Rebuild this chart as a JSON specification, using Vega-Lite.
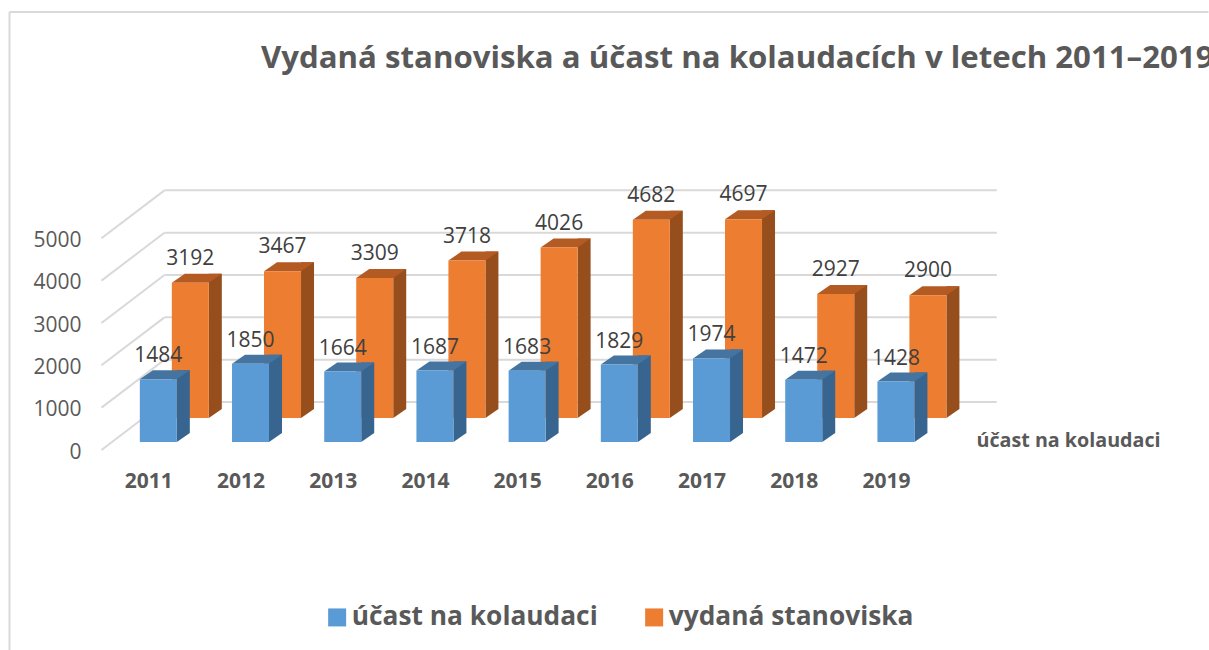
{
"$schema":"https://vega.github.io/schema/vega-lite/v6.json",
"width":922,"height":254,"autosize":"none",
"padding":{"left":103,"top":188,"right":184,"bottom":208},
"background":"white",
"config":{"view":{"stroke":null},"font":"Open Sans",
"axisX":{"grid":false,"ticks":false,"domain":false,"labelOffset":-10,"labelPadding":28,"labelFontSize":21,"labelFontWeight":"bold","labelColor":"#595959","labelFont":"Open Sans"},
"axisY":{"grid":false,"ticks":false,"domain":false,"labelOffset":10,"labelPadding":22,"labelFontSize":21,"labelColor":"#595959","labelFont":"Open Sans"}},
"title":{"text":"Vydaná stanoviska a účast na kolaudacích v letech 2011–2019","anchor":"start","frame":"group","dx":158,"offset":-88,"baseline":"alphabetic","font":"Open Sans","fontSize":31.2,"fontWeight":"bold","color":"#595959","limit":2000},
"data":{"values":[
{"year":2011,"series":"účast na kolaudaci","value":1484},{"year":2012,"series":"účast na kolaudaci","value":1850},{"year":2013,"series":"účast na kolaudaci","value":1664},{"year":2014,"series":"účast na kolaudaci","value":1687},{"year":2015,"series":"účast na kolaudaci","value":1683},{"year":2016,"series":"účast na kolaudaci","value":1829},{"year":2017,"series":"účast na kolaudaci","value":1974},{"year":2018,"series":"účast na kolaudaci","value":1472},{"year":2019,"series":"účast na kolaudaci","value":1428},
{"year":2011,"series":"vydaná stanoviska","value":3192},{"year":2012,"series":"vydaná stanoviska","value":3467},{"year":2013,"series":"vydaná stanoviska","value":3309},{"year":2014,"series":"vydaná stanoviska","value":3718},{"year":2015,"series":"vydaná stanoviska","value":4026},{"year":2016,"series":"vydaná stanoviska","value":4682},{"year":2017,"series":"vydaná stanoviska","value":4697},{"year":2018,"series":"vydaná stanoviska","value":2927},{"year":2019,"series":"vydaná stanoviska","value":2900}]},
"layer":[
{"data":{"values":[{"id":"frame"}]},"mark":{"type":"rule","color":"#d9d9d9","strokeWidth":2},"encoding":{
"x":{"datum":2009.386,"type":"quantitative","scale":{"domain":[2010.4,2020.4],"nice":false,"zero":false,"padding":0},"axis":{"title":null,"values":[2011,2012,2013,2014,2015,2016,2017,2018,2019],"format":"d"}},
"y":{"datum":10158,"type":"quantitative","scale":{"domain":[0,6000],"nice":false},"axis":{"title":null,"values":[0,1000,2000,3000,4000,5000],"format":"d"}},"y2":{"datum":-4913}}},
{"data":{"values":[{"id":"frame"}]},"mark":{"type":"rule","color":"#d9d9d9","strokeWidth":2},"encoding":{"x":{"datum":2009.386,"type":"quantitative","axis":{"title":null}},"x2":{"datum":2022.39},"y":{"datum":10158,"type":"quantitative","axis":{"title":null}}}},
{"data":{"values":[{"tick":0},{"tick":1000},{"tick":2000},{"tick":3000},{"tick":4000},{"tick":5000}]},"mark":{"type":"rule","color":"#d9d9d9","strokeWidth":2,"yOffset":-40},"encoding":{"x":{"datum":2011.067,"type":"quantitative","axis":{"title":null}},"x2":{"datum":2020.094},"y":{"field":"tick","type":"quantitative","axis":{"title":null}}}},
{"data":{"values":[{"tick":0},{"tick":1000},{"tick":2000},{"tick":3000},{"tick":4000},{"tick":5000}]},"mark":{"type":"point","shape":"M-1,0.76L1,-0.76","size":3969,"filled":false,"color":"#d9d9d9","strokeWidth":2,"opacity":1,"yOffset":-16},"encoding":{"x":{"datum":2010.725,"type":"quantitative","axis":{"title":null}},"y":{"field":"tick","type":"quantitative","axis":{"title":null}}}},

{"transform":[{"filter":"datum.series==='vydaná stanoviska'"}],"mark":{"type":"bar","orient":"vertical","size":13,"color":"#964f1c","xOffset":57,"yOffset":-33,"y2Offset":-33},"encoding":{"x":{"field":"year","type":"quantitative","axis":{"title":null}},"y":{"field":"value","type":"quantitative","stack":null,"axis":{"title":null}},"y2":{"datum":0}}},
{"transform":[{"filter":"datum.series==='vydaná stanoviska'"}],"mark":{"type":"point","shape":"M-1,0.69L-1,-0.69L1,-0.69Z","size":169,"filled":true,"color":"#964f1c","opacity":1,"xOffset":57,"yOffset":-28.5},"encoding":{"x":{"field":"year","type":"quantitative","axis":{"title":null}},"y":{"datum":0,"type":"quantitative","axis":{"title":null}}}},
{"transform":[{"filter":"datum.series==='vydaná stanoviska'"}],"mark":{"type":"point","shape":"M-1,0.18L0.48,0.18L1,-0.18L-0.48,-0.18Z","size":2500,"filled":true,"color":"#b45a23","opacity":1,"xOffset":38.5,"yOffset":-28.5},"encoding":{"x":{"field":"year","type":"quantitative","axis":{"title":null}},"y":{"field":"value","type":"quantitative","axis":{"title":null}}}},
{"transform":[{"filter":"datum.series==='vydaná stanoviska'"}],"mark":{"type":"bar","orient":"vertical","size":37,"xOffset":32,"yOffset":-24,"y2Offset":-24},"encoding":{"x":{"field":"year","type":"quantitative","axis":{"title":null}},"y":{"field":"value","type":"quantitative","stack":null,"axis":{"title":null}},"y2":{"datum":0},"color":{"field":"series","type":"nominal","scale":{"domain":["účast na kolaudaci","vydaná stanoviska"],"range":["#5b9bd5","#ed7d31"]},"legend":{"title":null,"orient":"none","legendX":221,"legendY":416,"direction":"horizontal","columns":2,"symbolType":"square","symbolSize":324,"symbolStrokeWidth":0,"labelFontSize":26.3,"labelFontWeight":"bold","labelColor":"#595959","labelFont":"Open Sans","labelOffset":1.5,"columnPadding":43,"labelLimit":400,"symbolOpacity":1}}}},

{"transform":[{"filter":"datum.series==='účast na kolaudaci'"}],"mark":{"type":"bar","orient":"vertical","size":13,"color":"#386590","xOffset":25,"yOffset":-9,"y2Offset":-9},"encoding":{"x":{"field":"year","type":"quantitative","axis":{"title":null}},"y":{"field":"value","type":"quantitative","stack":null,"axis":{"title":null}},"y2":{"datum":0}}},
{"transform":[{"filter":"datum.series==='účast na kolaudaci'"}],"mark":{"type":"point","shape":"M-1,0.69L-1,-0.69L1,-0.69Z","size":169,"filled":true,"color":"#386590","opacity":1,"xOffset":25,"yOffset":-4.5},"encoding":{"x":{"field":"year","type":"quantitative","axis":{"title":null}},"y":{"datum":0,"type":"quantitative","axis":{"title":null}}}},
{"transform":[{"filter":"datum.series==='účast na kolaudaci'"}],"mark":{"type":"point","shape":"M-1,0.18L0.48,0.18L1,-0.18L-0.48,-0.18Z","size":2500,"filled":true,"color":"#44749f","opacity":1,"xOffset":6.5,"yOffset":-4.5},"encoding":{"x":{"field":"year","type":"quantitative","axis":{"title":null}},"y":{"field":"value","type":"quantitative","axis":{"title":null}}}},
{"transform":[{"filter":"datum.series==='účast na kolaudaci'"}],"mark":{"type":"bar","orient":"vertical","size":37},"encoding":{"x":{"field":"year","type":"quantitative","axis":{"title":null}},"y":{"field":"value","type":"quantitative","stack":null,"axis":{"title":null}},"color":{"field":"series","type":"nominal"}}},

{"transform":[{"filter":"datum.series==='vydaná stanoviska'"}],"mark":{"type":"text","fontSize":21,"color":"#404040","font":"Open Sans","baseline":"middle","xOffset":32,"yOffset":-48},"encoding":{"x":{"field":"year","type":"quantitative","axis":{"title":null}},"y":{"field":"value","type":"quantitative","axis":{"title":null}},"text":{"field":"value","type":"quantitative","format":"d"}}},
{"transform":[{"filter":"datum.series==='účast na kolaudaci'"}],"mark":{"type":"text","fontSize":21,"color":"#404040","font":"Open Sans","baseline":"middle","yOffset":-23},"encoding":{"x":{"field":"year","type":"quantitative","axis":{"title":null}},"y":{"field":"value","type":"quantitative","axis":{"title":null}},"text":{"field":"value","type":"quantitative","format":"d"}}},
{"data":{"values":[{"label":"účast na kolaudaci"}]},"mark":{"type":"text","align":"left","baseline":"middle","fontSize":19.7,"fontWeight":"bold","color":"#595959","font":"Open Sans","yOffset":-1},"encoding":{"x":{"datum":2019.874,"type":"quantitative","axis":{"title":null}},"y":{"datum":0,"type":"quantitative","axis":{"title":null}},"text":{"field":"label"}}}
]
}
